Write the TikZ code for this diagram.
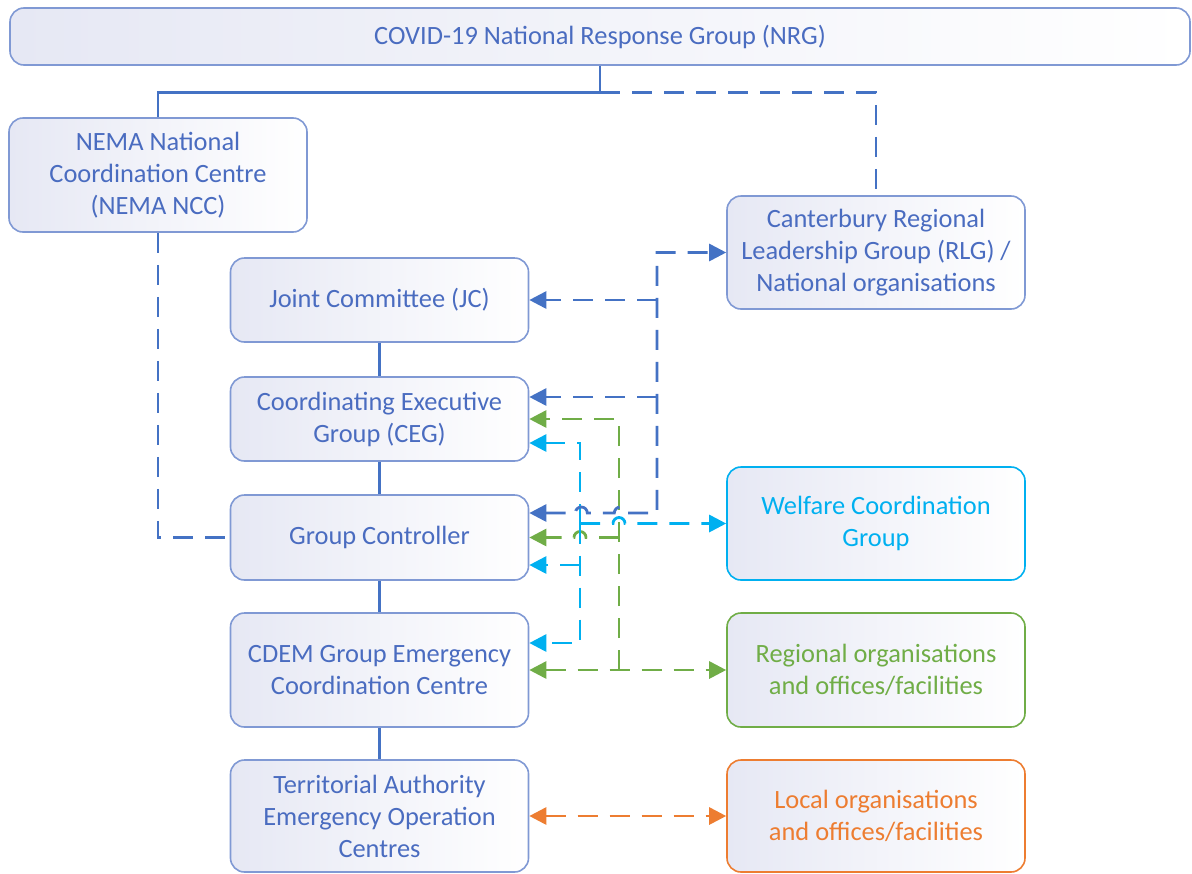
\documentclass[tikz,border=0pt]{standalone}
\usepackage{fontspec}
\setmainfont{Carlito}
\usetikzlibrary{arrows.meta}
\definecolor{boxtext}{HTML}{4A6CC0}
\definecolor{boxline}{HTML}{8099D4}
\definecolor{boxfill}{HTML}{E6E8F4}
\definecolor{nblue}{HTML}{4472C4}
\definecolor{ncyan}{HTML}{00B0F0}
\definecolor{ngreen}{HTML}{70AD47}
\definecolor{norange}{HTML}{ED7D31}
\begin{document}
\begin{tikzpicture}[x=0.5pt, y=-0.5pt,
  box/.style={rectangle, rounded corners=7pt, draw=boxline, line width=0.8pt, left color=boxfill, right color=white, text=boxtext, align=center, minimum width=149pt, inner sep=0pt, font=\fontsize{13.2}{16}\selectfont},
  link/.style={line width=1.4pt, dash pattern=on 10pt off 6pt, >={Triangle[length=8.5pt,width=8.5pt]}},
  bline/.style={link, draw=nblue},
  cline/.style={link, draw=ncyan},
  gline/.style={link, draw=ngreen},
  oline/.style={link, draw=norange},
  tree/.style={line width=1.4pt, draw=nblue}]
\useasboundingbox (0,0) rectangle (1192,873);

\node[box, minimum width=590pt, minimum height=28.5pt] (nrg) at (600,36.5) {COVID-19 National Response Group (NRG)};
\node[box, minimum height=57pt] (nema) at (158,175) {NEMA National\\Coordination Centre\\(NEMA NCC)};
\node[box, minimum height=56.5pt] (rlg) at (876,252.5) {Canterbury Regional\\Leadership Group (RLG) /\\National organisations};
\node[box, minimum height=42pt] (jc) at (379.5,300) {Joint Committee (JC)};
\node[box, minimum height=42pt] (ceg) at (379.5,419) {Coordinating Executive\\Group (CEG)};
\node[box, minimum height=42.5pt] (gc) at (379.5,537.5) {Group Controller};
\node[box, minimum height=57pt] (ecc) at (379.5,670) {CDEM Group Emergency\\Coordination Centre};
\node[box, minimum height=56pt] (eoc) at (379.5,816) {Territorial Authority\\Emergency Operation\\Centres};
\node[box, draw=ncyan, text=ncyan, minimum height=56.5pt] (welfare) at (876,523.5) {Welfare Coordination\\Group};
\node[box, draw=ngreen, text=ngreen, minimum height=57pt] (regional) at (876,670) {Regional organisations\\and offices/facilities};
\node[box, draw=norange, text=norange, minimum height=56pt] (local) at (876,816) {Local organisations\\and offices/facilities};

\coordinate (nrgjoin) at ([yshift=-13.5pt]nrg.south);
\coordinate (bbus) at (657,0);
\coordinate (gbus) at (619,0);
\coordinate (cbus) at (580,0);
\coordinate (bend) at (657,513);

\draw[tree] (nrg.south) -- (nrgjoin) -| (nema.north);
\draw[bline] (nrgjoin) -| (rlg.north);
\draw[bline] (nema.south) |- (gc.west);
\draw[tree] (jc.south) -- (ceg.north);
\draw[tree] (ceg.south) -- (gc.north);
\draw[tree] (gc.south) -- (ecc.north);
\draw[tree] (ecc.south) -- (eoc.north);

\draw[gline, <->] (ecc.east) -- (regional.west);
\draw[gline, ->] (gbus |- ecc.east) |- (ceg.east);
\draw[gline, ->] (gbus |- gc.east) -- ++(-33,0) arc[start angle=0, end angle=180, radius=3pt] -- (gc.east);

\draw[cline, ->] (cbus |- welfare.west) -- ++(33,0) arc[start angle=180, end angle=0, radius=3pt] -- (welfare.west);
\draw[cline, ->] (cbus |- welfare.west) |- ([yshift=-12pt]ceg.east);
\draw[cline, ->] (cbus |- welfare.west) |- ([yshift=13.5pt]ecc.east);
\draw[cline, ->] ([yshift=-13.75pt]gc.east -| cbus) -- ([yshift=-13.75pt]gc.east);

\draw[bline, <->] ([yshift=12.25pt]gc.east) -- ++(46,0) arc[start angle=180, end angle=0, radius=3pt] -- ++(27,0) arc[start angle=180, end angle=0, radius=3pt] -- (bend) |- (rlg.west);
\draw[bline, ->] (jc.east -| bbus) -- (jc.east);
\draw[bline, ->] ([yshift=11pt]ceg.east -| bbus) -- ([yshift=11pt]ceg.east);

\draw[oline, <->] (eoc.east) -- (local.west);
\end{tikzpicture}
\end{document}
